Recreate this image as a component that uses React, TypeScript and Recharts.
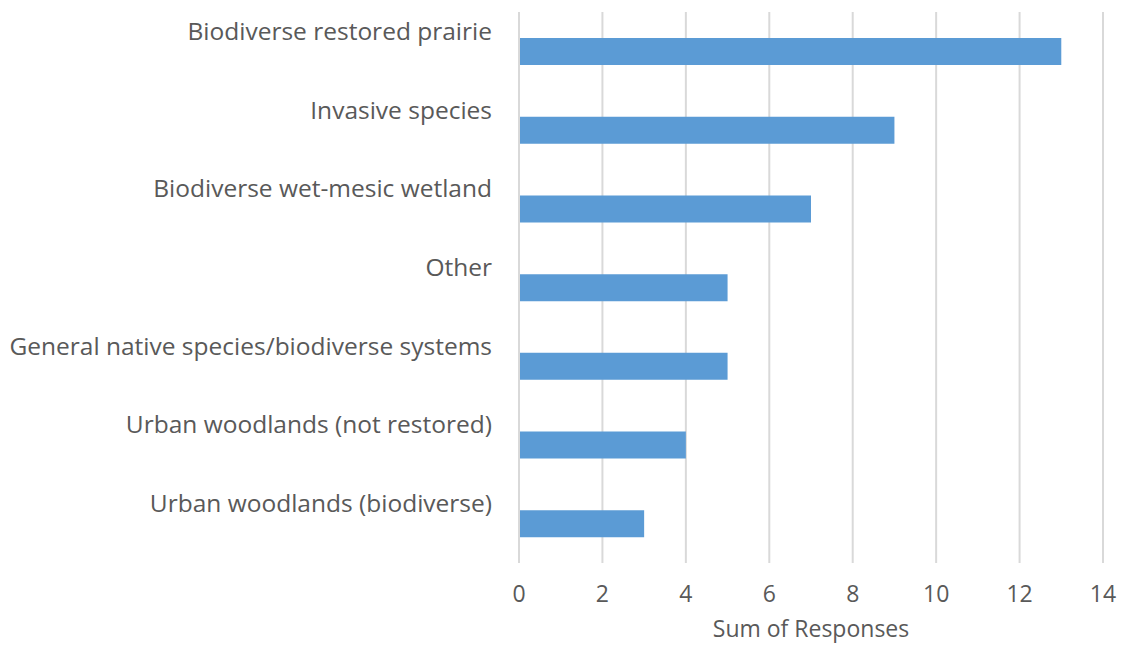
import { BarChart, Bar, XAxis, YAxis, CartesianGrid, Label } from 'recharts';

const categories = [
  'Biodiverse restored prairie',
  'Invasive species',
  'Biodiverse wet-mesic wetland',
  'Other',
  'General native species/biodiverse systems',
  'Urban woodlands (not restored)',
  'Urban woodlands (biodiverse)',
];
const responses = [13, 9, 7, 5, 5, 4, 3];
const xTicks = [0, 2, 4, 6, 8, 10, 12, 14];

const data = categories.map((name, i) => ({ name, value: responses[i] }));

const FONT = '"Open Sans", Lato, sans-serif';
const TEXT = '#595959';
const GRID = '#d9d9d9';

// category labels sit above their bars, right-aligned against the axis
const CategoryTick = ({ x, y, payload }: any) => (
  <text
    x={x}
    y={y - 21}
    textAnchor="end"
    dominantBaseline="central"
    fontFamily={FONT}
    fontSize={24.5}
    fill={TEXT}
  >
    {payload.value}
  </text>
);

export default function App() {
  return (
    <div style={{ position: 'absolute', left: 0, top: 0, background: '#fff' }}>
      <BarChart
        width={1122}
        height={645}
        data={data}
        layout="vertical"
        margin={{ top: 12, right: 19, bottom: 0, left: 0 }}
      >
        <CartesianGrid horizontal={false} stroke={GRID} strokeWidth={2} />
        <XAxis
          type="number"
          domain={[0, 14]}
          ticks={xTicks}
          axisLine={false}
          tickLine={false}
          tickMargin={17}
          height={82}
          tick={{ fontFamily: FONT, fontSize: 23, fill: TEXT }}
        >
          <Label
            value="Sum of Responses"
            position="insideBottom"
            offset={8}
            style={{ fontFamily: FONT, fontSize: 23, fill: TEXT }}
          />
        </XAxis>
        <YAxis
          type="category"
          dataKey="name"
          width={519}
          axisLine={{ stroke: GRID, strokeWidth: 2 }}
          tickLine={false}
          tickMargin={21}
          tick={<CategoryTick />}
          interval={0}
        />
        <Bar dataKey="value" fill="#5b9bd5" barSize={27} isAnimationActive={false} />
      </BarChart>
    </div>
  );
}
